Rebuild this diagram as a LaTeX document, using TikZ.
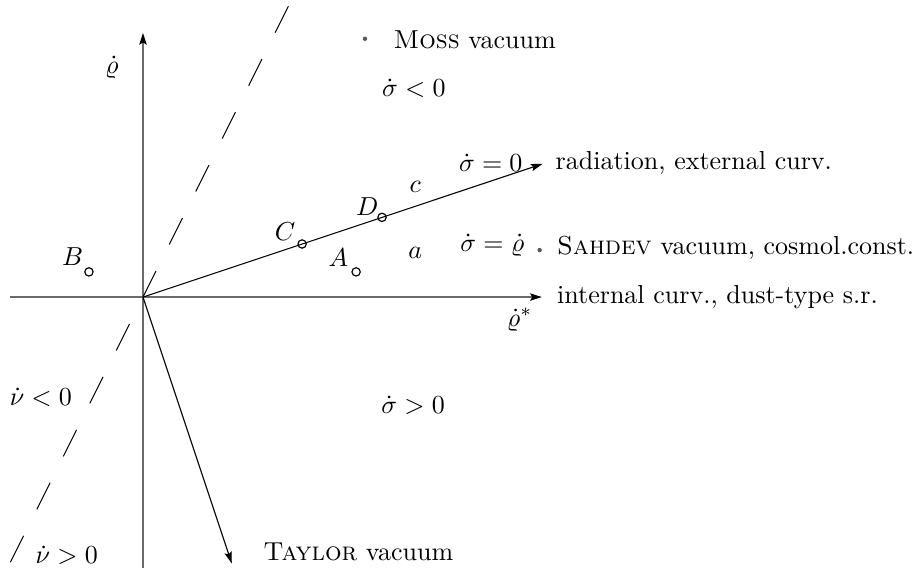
\documentclass[tikz,border=0pt]{standalone}
\usepackage{amsmath,amssymb}
\usepackage{tikz}
\usetikzlibrary{arrows.meta}
\definecolor{AxisGray}{gray}{0.42}

\begin{document}
\begin{tikzpicture}[
    tipped/.style={-{Stealth[length=4.5pt,width=2.8pt,inset=0.8pt,black]}},
    axisline/.style={AxisGray,line width=0.7pt,tipped},
    rayline/.style={black,line width=0.4pt,tipped},
    ptmark/.style={circle,draw,line width=0.45pt,inner sep=0pt,minimum size=3.2pt},
    dotmark/.style={circle,fill=black!65,inner sep=0pt,minimum size=1.7pt},
    lbl/.style={inner sep=0pt}]
  \useasboundingbox (-1.932,-3.703) rectangle (10.486,4.014);
  % axes and rays
  \coordinate (O) at (0,0);
  \coordinate (xlo) at (-1.80,0);
  \coordinate (xhi) at (5.39,0);
  \coordinate (ylo) at (0,-3.66);
  \coordinate (yhi) at (0,3.57);
  \coordinate (radend) at (5.4,1.8);
  \coordinate (tayend) at (1.2,-3.6);
  \coordinate (nulo) at (-1.81,-3.62);
  \coordinate (nuhi) at (1.965,3.93);
  \draw[axisline] (xlo) -- (xhi);
  \draw[axisline] (ylo) -- (yhi);
  \draw[rayline] (O) -- (radend);
  \draw[rayline] (O) -- (tayend);
  \draw[line width=0.4pt,dash pattern=on 4mm off 4mm] (nuhi) -- (nulo);
  % points
  \node[ptmark] (ptA) at (2.88,0.34) {};
  \node[ptmark] (ptB) at (-0.73,0.34) {};
  \node[ptmark] (ptC) at (2.15,0.717) {};
  \node[ptmark] (ptD) at (3.23,1.077) {};
  \node[dotmark] (moss) at (3.0,3.49) {};
  \node[dotmark] (sahdev) at (5.36,0.635) {};
  % labels
  \node[lbl] (rhodot) at (-0.42,3.11) {$\dot\varrho$};
  \node[lbl] (rhostar) at (5.09,-0.31) {$\dot\varrho^*$};
  \node[lbl,anchor=west] (mosstxt) at (3.38,3.47) {\textsc{Moss} vacuum};
  \node[lbl] (signeg) at (3.66,2.82) {$\dot\sigma<0$};
  \node[lbl] (sigzero) at (4.70,1.81) {$\dot\sigma=0$};
  \node[lbl,anchor=west] (radtxt) at (5.57,1.81) {radiation, external curv.};
  \node[lbl] (regc) at (3.68,1.49) {$c$};
  \node[lbl] (rega) at (3.68,0.59) {$a$};
  \node[lbl] (lblD) at (3.03,1.22) {$D$};
  \node[lbl] (lblC) at (1.92,0.88) {$C$};
  \node[lbl] (lblA) at (2.64,0.53) {$A$};
  \node[lbl] (lblB) at (-0.95,0.54) {$B$};
  \node[lbl] (sigrho) at (4.72,0.70) {$\dot\sigma=\dot\varrho$};
  \node[lbl,anchor=west] (sahtxt) at (5.59,0.66) {\textsc{Sahdev} vacuum, cosmol.const.};
  \node[lbl,anchor=west] (inttxt) at (5.59,0) {internal curv., dust-type s.r.};
  \node[lbl] (sigpos) at (3.65,-1.46) {$\dot\sigma>0$};
  \node[lbl] (nuneg) at (-1.38,-1.35) {$\dot\nu<0$};
  \node[lbl] (nupos) at (-1.03,-3.49) {$\dot\nu>0$};
  \node[lbl,anchor=west] (taytxt) at (1.62,-3.45) {\textsc{Taylor} vacuum};
\end{tikzpicture}
\end{document}
